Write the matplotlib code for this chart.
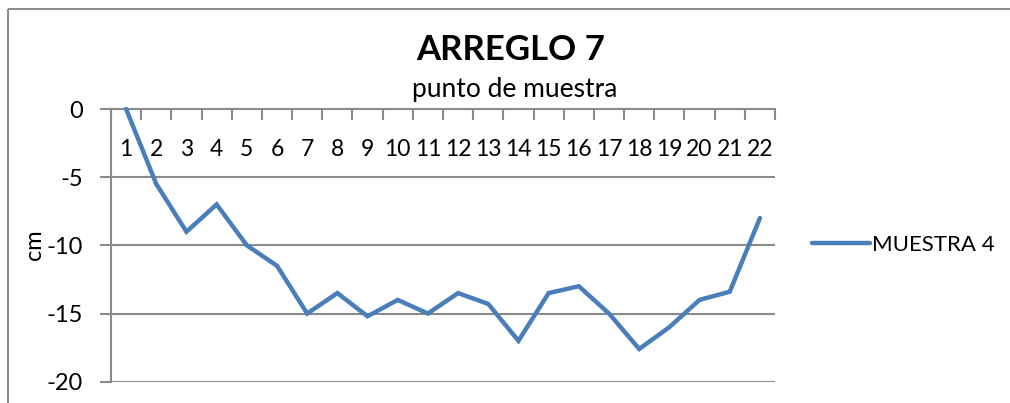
import matplotlib
matplotlib.use("Agg")
import matplotlib.pyplot as plt
import matplotlib.transforms as mtransforms
from matplotlib.lines import Line2D

plt.rcParams['font.family'] = ['Lato', 'DejaVu Sans']

# Sample points and measured depth (cm)
puntos = list(range(1, 23))
muestra_4 = [0, -5.5, -9, -7, -10, -11.5, -15, -13.5, -15.2, -14, -15,
             -13.5, -14.3, -17, -13.5, -13, -15, -17.6, -16, -14, -13.4, -8]
y_ticks = [0, -5, -10, -15, -20]

titulo = "ARREGLO 7"
eje_x = "punto de muestra"
eje_y = "cm"
serie = "MUESTRA 4"

W, H = 1010, 403
fig = plt.figure(figsize=(W / 100, H / 100), dpi=100)
fig.patch.set_facecolor('white')

# chart-area border (top and left edges fall inside the image)
border_c = '#8c8c8c'
fig.add_artist(Line2D([8 / W, 1.0], [1 - 9 / H, 1 - 9 / H],
                      transform=fig.transFigure, color=border_c, lw=1.5,
                      solid_capstyle='butt'))
fig.add_artist(Line2D([8 / W, 8 / W], [0.0, 1 - 9 / H],
                      transform=fig.transFigure, color=border_c, lw=1.5,
                      solid_capstyle='butt'))

ax = fig.add_axes([111 / W, 1 - 381.7 / H, (775 - 111) / W, (381.7 - 109) / H])

grid_c = '#8a8a8a'
line_c = '#4a7ebb'

ax.plot(puntos, muestra_4, color=line_c, lw=3.2, solid_capstyle='round',
        solid_joinstyle='miter', label=serie, zorder=3, clip_on=False)

ax.set_xlim(0.5, 22.5)
ax.set_ylim(-20, 0)

for s in ['right', 'bottom']:
    ax.spines[s].set_visible(False)
for s in ['top', 'left']:
    ax.spines[s].set_color(grid_c)
    ax.spines[s].set_linewidth(1.5)

# horizontal gridlines
ax.set_yticks(y_ticks)
ax.set_yticklabels([str(v) for v in y_ticks])
for v in y_ticks[1:]:
    ax.axhline(v, color=grid_c, lw=1.5, zorder=1)
ax.tick_params(axis='y', direction='out', length=8, width=1.5, color=grid_c,
               labelsize=17, pad=12)

# category axis at the top (y = 0), tick marks between categories
ax.xaxis.set_ticks_position('top')
ax.set_xticks([i + 0.5 for i in range(0, 23)])
ax.set_xticklabels([])
ax.tick_params(axis='x', direction='in', length=8, width=1.5, color=grid_c)

lab_tr = mtransforms.offset_copy(ax.transData, fig=fig, x=0, y=-41, units='dots')
for p in puntos:
    ax.text(p, 0, str(p), transform=lab_tr, ha='center', va='center',
            fontsize=16.5, color='black')

fig.text(511 / W, 1 - 50 / H, titulo, ha='center', va='center',
         fontsize=25, fontweight='bold')
fig.text(515 / W, 1 - 90 / H, eje_x, ha='center', va='center', fontsize=19)
fig.text(35 / W, 1 - 245 / H, eje_y, ha='center', va='center', fontsize=17,
         rotation=90)

fig.legend(loc='center left', bbox_to_anchor=(803 / W, 1 - 245 / H),
           frameon=False, fontsize=16, handlelength=2.6, handletextpad=0.1,
           borderaxespad=0)

fig.savefig('out.png', dpi=100)
